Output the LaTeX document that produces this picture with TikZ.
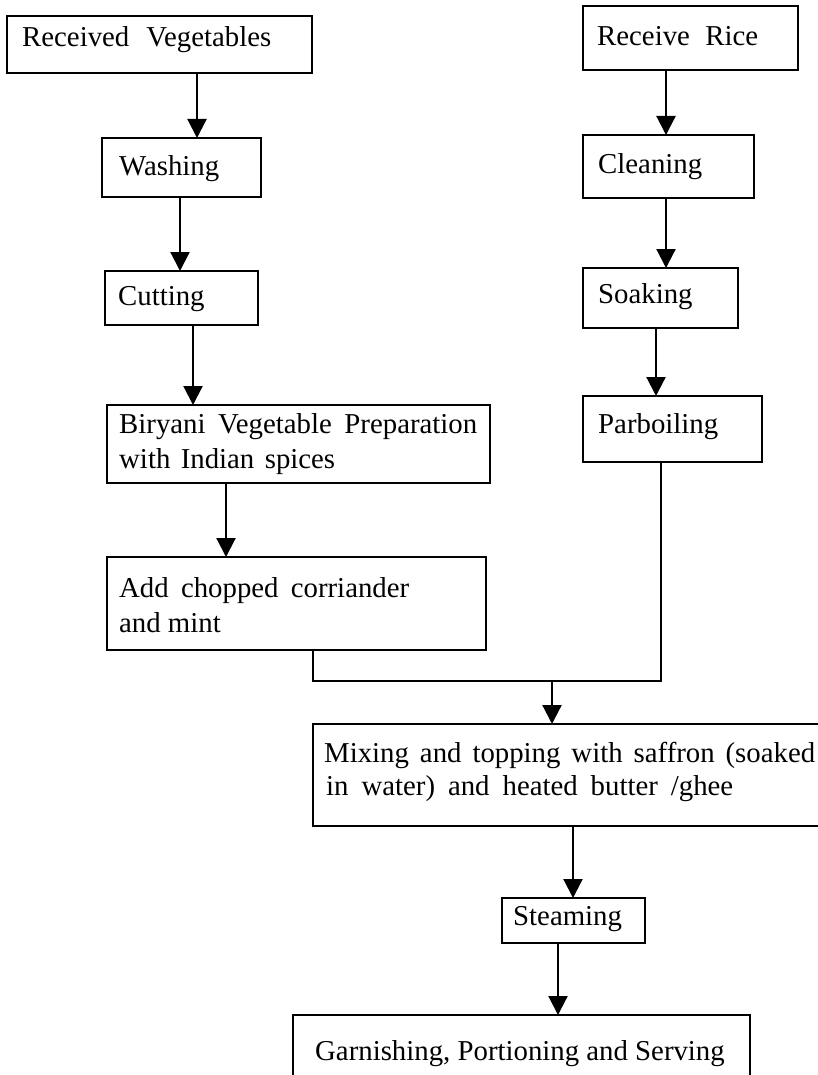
\documentclass[tikz,border=0pt]{standalone}
\usepackage{fontspec}
\setmainfont{Liberation Serif}
\usetikzlibrary{arrows.meta}
\newcommand{\sline}[2]{\makebox[#1][s]{#2}}
\begin{document}
\begin{tikzpicture}[x=1pt,y=-1pt,
  box/.style={draw, line width=2.2pt, outer sep=0pt, inner sep=0pt, anchor=north west},
  lbl/.style={anchor=base west, inner sep=0pt, font=\fontsize{28.8}{34}\selectfont},
  arr/.style={line width=2.2pt, -{Triangle[width=19pt,length=19pt]}},
  link/.style={line width=2.2pt}]
\useasboundingbox (0,0) rectangle (817,1075);
% boxes
\node[box, minimum width=305pt, minimum height=57pt] (rv) at (7,16) {};
\node[box, minimum width=215pt, minimum height=64pt] (rr) at (583,6) {};
\node[box, minimum width=159pt, minimum height=59pt] (wash) at (102,138) {};
\node[box, minimum width=171pt, minimum height=63pt] (clean) at (583,135) {};
\node[box, minimum width=153pt, minimum height=54pt] (cut) at (105,271) {};
\node[box, minimum width=155pt, minimum height=60pt] (soak) at (583,268) {};
\node[box, minimum width=383pt, minimum height=78pt] (bir) at (107,405) {};
\node[box, minimum width=179pt, minimum height=66pt] (parb) at (583,396) {};
\node[box, minimum width=379pt, minimum height=93pt] (add) at (107,557) {};
\node[box, minimum width=527pt, minimum height=102pt] (mix) at (313,724) {};
\node[box, minimum width=143pt, minimum height=45pt] (steam) at (502,898) {};
\node[box, minimum width=457pt, minimum height=85pt] (garn) at (293,1015) {};
% texts
\node[lbl] (trv) at (22,47) {\sline{249pt}{Received Vegetables}};
\node[lbl] (trr) at (597,46) {\sline{161pt}{Receive Rice}};
\node[lbl] (twash) at (119,176) {Washing};
\node[lbl] (tclean) at (598,174) {Cleaning};
\node[lbl] (tcut) at (118,305) {Cutting};
\node[lbl] (tsoak) at (598,303) {Soaking};
\node[lbl] (tbir1) at (119,433) {\sline{358pt}{Biryani Vegetable Preparation}};
\node[lbl] (tbir2) at (119,468) {\sline{216pt}{with Indian spices}};
\node[lbl] (tparb) at (598,433) {Parboiling};
\node[lbl] (tadd1) at (119,597) {\sline{290pt}{Add chopped corriander}};
\node[lbl] (tadd2) at (119,632) {and mint};
\node[lbl] (tmix1) at (324,762) {\sline{491pt}{Mixing and topping with saffron (soaked}};
\node[lbl] (tmix2) at (326,795) {\sline{407pt}{in water) and heated butter /ghee}};
\node[lbl] (tsteam) at (513,925) {Steaming};
\node[lbl] (tgarn) at (315,1060) {Garnishing, Portioning and Serving};
% connectors
\draw[arr] (197,0 |- rv.south) -- (197,0 |- wash.north);
\draw[arr] (180,0 |- wash.south) -- (180,0 |- cut.north);
\draw[arr] (193,0 |- cut.south) -- (193,0 |- bir.north);
\draw[arr] (226,0 |- bir.south) -- (226,0 |- add.north);
\draw[arr] (666,0 |- rr.south) -- (666,0 |- clean.north);
\draw[arr] (666,0 |- clean.south) -- (666,0 |- soak.north);
\draw[arr] (656,0 |- soak.south) -- (656,0 |- parb.north);
\coordinate (m1) at (313,681);
\coordinate (m2) at (661,681);
\draw[link] (313,0 |- add.south) -- (m1) -- (m2) -- (661,0 |- parb.south);
\draw[arr] (552,0 |- m1) -- (552,0 |- mix.north);
\draw[arr] (573,0 |- mix.south) -- (573,0 |- steam.north);
\draw[arr] (558,0 |- steam.south) -- (558,0 |- garn.north);
\end{tikzpicture}
\end{document}
